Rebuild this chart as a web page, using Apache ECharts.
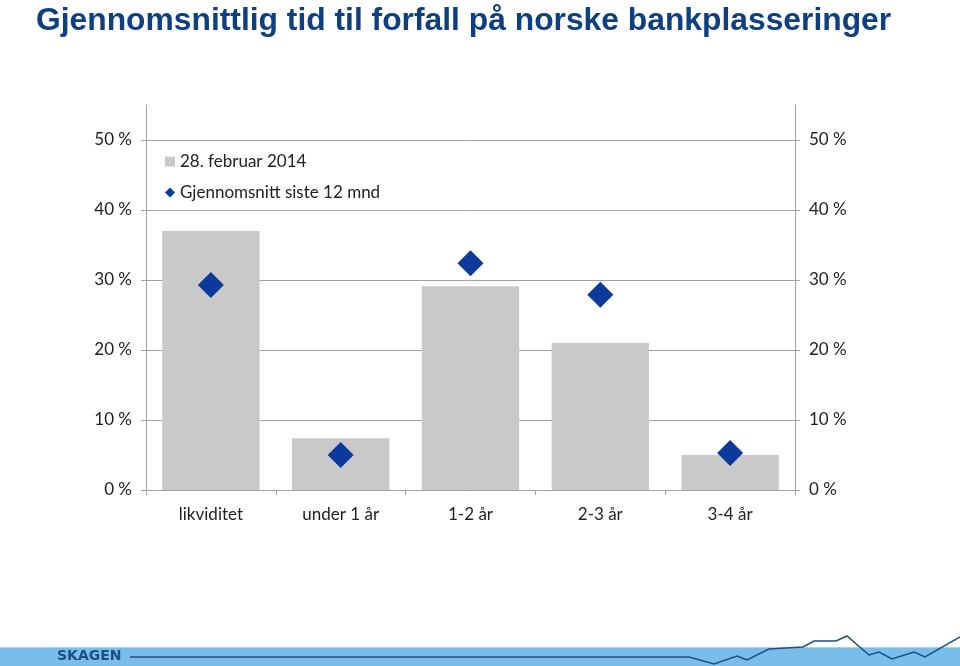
<!DOCTYPE html>
<html>
<head>
<meta charset="utf-8">
<script src="https://cdn.jsdelivr.net/npm/echarts@6/dist/echarts.min.js"></script>
<style>
html, body { margin: 0; padding: 0; background: #fff; }
#chart { width: 960px; height: 666px; }
</style>
</head>
<body>
<div id="chart"></div>
<script>
const categories = ['likviditet', 'under 1 år', '1-2 år', '2-3 år', '3-4 år'];
const feb2014 = [37.0, 7.4, 29.1, 21.0, 5.0]; // 28. februar 2014
const avg12m = [29.3, 5.0, 32.4, 27.9, 5.3]; // Gjennomsnitt siste 12 mnd
const tickValues = [0, 10, 20, 30, 40, 50];

const font = 'Lato, sans-serif';
const myChart = echarts.init(document.getElementById('chart'));

// yAxis felles oppsett (venstre og høyre)
const yAxisBase = (position) => ({
	type: 'value',
	position: position,
	min: 0,
	max: 55,
	interval: 10,
	axisLine: { show: true, lineStyle: { color: '#a0a0a0', width: 1 } },
	axisTick: { show: true, length: 5, customValues: tickValues, lineStyle: { color: '#a0a0a0' } },
	axisLabel: {
		customValues: tickValues,
		formatter: (v) => v + ' %',
		color: '#222',
		fontFamily: font,
		fontSize: 17,
		margin: 14,
	},
	splitLine: position === 'left'
		? { show: true, lineStyle: { color: '#a0a0a0', width: 1 } }
		: { show: false },
});

const option = {
	animation: false,
	title: {
		text: 'Gjennomsnittlig tid til forfall på norske bankplasseringer',
		left: 31,
		top: 0,
		textStyle: {
			color: '#0e3f80',
			fontFamily: '"Liberation Sans", Arial, sans-serif',
			fontWeight: 'bold',
			fontSize: 31.8,
		},
	},
	grid: { left: 146, right: 165, top: 105, bottom: 176 },
	legend: {
		orient: 'vertical',
		left: 160,
		top: 148,
		itemGap: 14,
		itemWidth: 10,
		itemHeight: 10,
		textStyle: { color: '#222', fontFamily: font, fontSize: 17 },
		data: [
			{ name: '28. februar 2014', icon: 'rect' },
			{ name: 'Gjennomsnitt siste 12 mnd', icon: 'diamond' },
		],
	},
	xAxis: {
		type: 'category',
		data: categories,
		axisLine: { lineStyle: { color: '#a0a0a0' } },
		axisTick: { show: true, length: 5, lineStyle: { color: '#a0a0a0' } },
		axisLabel: { color: '#222', fontFamily: font, fontSize: 17, margin: 16 },
	},
	yAxis: [yAxisBase('left'), yAxisBase('right')],
	series: [
		{
			name: '28. februar 2014',
			type: 'bar',
			data: feb2014,
			barWidth: '75%',
			itemStyle: { color: '#c9c9c9' },
		},
		{
			name: 'Gjennomsnitt siste 12 mnd',
			type: 'scatter',
			data: avg12m,
			symbol: 'diamond',
			symbolSize: 26,
			itemStyle: { color: '#0b3a9a', opacity: 1 },
		},
	],
	// SKAGEN bunnlinje
	graphic: [
		{ type: 'rect', shape: { x: 0, y: 648, width: 960, height: 18 }, style: { fill: '#79bde8' } },
		{ type: 'rect', shape: { x: 0, y: 647, width: 960, height: 1 }, style: { fill: '#a9d3ee' } },
		{
			type: 'text', left: 57, top: 649,
			style: { text: 'SKAGEN', fill: '#1d4f86', font: 'bold 14px "DejaVu Sans", sans-serif' },
		},
		{
			type: 'polyline',
			shape: {
				points: [[130, 657], [689, 657], [714, 664], [737, 656], [747, 660], [769, 649], [803, 647],
					[814, 641], [836, 641], [847, 636], [869, 655], [879, 652], [892, 659], [914, 652],
					[925, 657], [960, 637]],
			},
			style: { stroke: '#1d4f86', lineWidth: 1.5, fill: null },
		},
	],
};
option && myChart.setOption(option, true);
</script>
</body>
</html>
